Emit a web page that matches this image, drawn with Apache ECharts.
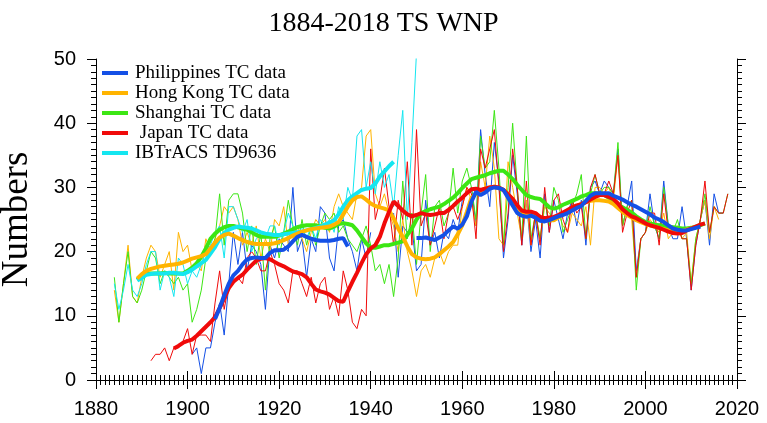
<!DOCTYPE html>
<html><head><meta charset="utf-8">
<script src="https://cdn.jsdelivr.net/npm/echarts@6/dist/echarts.min.js"></script>
<style>html,body{margin:0;padding:0;background:#fff}#c{width:767px;height:423px}</style>
</head><body><div id="c"></div>
<script>
// ---- annual values (thin lines) ----
const phStart = 1901;
const phAnnual = [4,5,1,5,5,9,12,7,15,23, 18,23,17,21,20,18,11,21,19,22, 21,20,30,20,22,16,22,20,27,26,
  19,17,24,25,22,20,17,22,19,23, null,null,null,null, 26,16,24,23,24,17, 18,28,21,23,19,23,22,25,23,28,
  29,30,24,39,32,27,37,31,19,25, 35,29,21,28,20,25,19,29,23,28, 25,22,26,28,24,28,21,30,31,29,
  31,30,29,36,24,27,31,17,22,23, 29,24,22,31,24,22,22,27,22,14, 21,25,28,21,29,26,26];
const hkStart = 1884;
const hkAnnual = [14,9,15,21,13,12,16,19,21,20, 16,18,20,14,23,20,21,17,18,17, 22,20,22,24,27,26,27,25,21,23,
  21,24,19,22,20,25,24,27,21,22, 24,22,20,23,25,24,25,23,27,29, 27,26,25,29,30,38,39,29,27,29,
  26,24,20,25,20,17,13,17,18,16, 19,20,18,20,21,21,27,30,28,24, 34,30,38,33,22,21,34,30,26,22,
  28,21,26,22,27,26,25,26,24,23, 26,25,24,27,21,30,30,29,30,28, 35,24,27,25,16,22,23,25,24,23,
  26,22,23,24,22,23,15,22,25,28, 22,27,25];
const shStart = 1884;
const shAnnual = [16,9,15,20,13,12,14,17,20,19, 15,17,16,15,16,14,15,9,11,14, 19,20,22,29,21,28,29,29,26,20,
  24,18,23,14,22,24,19,23,28,24, 21,25,21,24,21,24,26,25,26,23, 24,22,21,20,22,24,21,17,18,15,
  18,13,19,31,22,26,18,26,32,20, 27,28,24,26,33,26,31,33,30,25, 38,33,34,42,33,21,30,40,30,22,
  38,22,26,22,28,24,30,28,23,25, 27,29,32,22,29,32,29,30,30,29, 37,24,27,28,14,22,23,27,24,22,
  30,24,23,25,22,22,15,22,25,29, 23,27,26,26,29];
const jpStart = 1892;
const jpAnnual = [3,4,4,5,3,5,5,6,8,4, 7,7,7,6,12,17,11,15,15,16, 15,19,20,19,17,17,20,18,15,14,
  12,17,17,15,13,16,12,15,16,11, 13,10,17,14,9,8,11,10,36,25, 28,33,27,21,28,25,34,21,39,24,
  26,21,24,27,22,26,27,25,27,30, 29,22,36,33,36,39,30,20,26,36, 30,21,31,21,26,21,30,23,28,29,
  25,23,28,26,27,22,30,32,29,29, 31,29,35,23,26,28,16,22,23,26, 26,21,29,23,23,24,22,22,14,21,
  25,31,23,27,26,26,29];
const ibStart = 1884;
const ibAnnual = [15,11,14,18,14,13,15,18,20,20, 14,17,16,13,19,18,15,17,16,18, 20,21,23,24,19,27,27,25,23,25,
  20,22,23,22,24,24,21,23,26,24, 22,24,22,24,22,25,24,25,23,27, 25,30,28,38,39,30,34,29,34,30,
  32,27,35,42,25,37,51];

// ---- smoothed values (thick lines) ----
const phSmoothA = [[1906,9.5],[1907,11.2],[1908,13.2],[1909,15],[1910,16.3],[1911,17],[1912,18],[1913,18.8],[1914,19],
  [1915,19.1],[1916,19],[1917,19],[1918,19.8],[1919,20.2],[1920,20.2],[1921,20.3],[1922,20.8],[1923,21.6],[1924,22.3],
  [1925,22.6],[1926,22.3],[1927,22],[1928,21.8],[1929,21.7],[1930,21.7],[1931,21.7],[1932,21.8],[1933,22],[1934,22.1],[1935,20.8]];
const phSmoothB = [[1950,22.1],[1951,22.1],[1952,22.2],[1953,22],[1954,21.8],[1955,22.2],[1956,22.6],[1957,23.3],[1958,23.9],
  [1959,23.6],[1960,24.2],[1961,25.5],[1962,27.8],[1963,29.3],[1964,28.8],[1965,29.2],[1966,29.8],[1967,30],[1968,29.9],
  [1969,29.6],[1970,28.4],[1971,27.2],[1972,26],[1973,25.6],[1974,25.4],[1975,25.6],[1976,25.3],[1977,24.8],[1978,24.7],
  [1979,24.9],[1980,25.2],[1981,25.5],[1982,25.7],[1983,26],[1984,26.4],[1985,26.8],[1986,27.1],[1987,27.9],[1988,28.7],
  [1989,29.1],[1990,29.1],[1991,29.1],[1992,29.1],[1993,28.7],[1994,28.4],[1995,28.1],[1996,27.7],[1997,27.3],[1998,27],
  [1999,26.6],[2000,26.2],[2001,25.8],[2002,25.3],[2003,25],[2004,24.6],[2005,24.1],[2006,23.6],[2007,23.4],[2008,23.3],
  [2009,23.3],[2010,23.5],[2011,23.7],[2012,23.9]];
const hkSmooth = [[1889,15.8],[1890,16.5],[1891,17],[1892,17.3],[1893,17.5],[1894,17.7],[1895,17.8],[1896,17.9],[1897,18],
  [1898,18.1],[1899,18.3],[1900,18.6],[1901,18.9],[1902,19.1],[1903,19.3],[1904,19.6],[1905,20.5],[1906,21.4],[1907,22.2],
  [1908,22.6],[1909,22.8],[1910,22.5],[1911,22.1],[1912,21.8],[1913,21.5],[1914,21.3],[1915,21.2],[1916,21.2],[1917,21.2],
  [1918,21.2],[1919,21.3],[1920,21.5],[1921,21.8],[1922,22.1],[1923,22.5],[1924,22.8],[1925,23.1],[1926,23.3],[1927,23.5],
  [1928,23.6],[1929,23.7],[1930,23.8],[1931,23.9],[1932,24.2],[1933,24.6],[1934,25.8],[1935,27],[1936,28],[1937,28.5],
  [1938,28.6],[1939,28.1],[1940,27.5],[1941,27.1],[1942,26.9],[1943,26.7],[1944,26.4],[1945,25.2],[1946,23.6],[1947,22.3],
  [1948,20.8],[1949,19.6],[1950,19.1],[1951,18.9],[1952,18.8],[1953,18.9],[1954,19.1],[1955,19.6],[1956,20.2],[1957,20.8],
  [1958,21.5],[1959,22.7],[1960,24.1],[1961,26.2],[1962,28.4],[1963,29],[1964,29.5],[1965,29.8],[1966,30],[1967,30.1],
  [1968,29.9],[1969,29.6],[1970,29],[1971,28],[1972,27],[1973,26.2],[1974,25.7],[1975,25.8],[1976,25.9],[1977,25.4],
  [1978,24.9],[1979,24.9],[1980,24.9],[1981,25.3],[1982,25.9],[1983,26.4],[1984,26.8],[1985,27.1],[1986,27.4],[1987,27.7],
  [1988,27.9],[1989,28],[1990,28],[1991,27.9],[1992,27.8],[1993,27.4],[1994,26.8],[1995,26.2],[1996,25.7],[1997,25.3],
  [1998,24.9],[1999,24.6],[2000,24.3],[2001,24.1],[2002,23.9],[2003,23.7],[2004,23.5],[2005,23.3],[2006,23.2],[2007,23.1],
  [2008,23.2],[2009,23.4],[2010,23.6],[2011,23.9]];
const shSmooth = [[1889,15.6],[1890,16.2],[1891,16.5],[1892,16.6],[1893,16.6],[1894,16.6],[1895,16.7],[1896,16.6],[1897,16.6],
  [1898,16.6],[1899,16.6],[1900,17],[1901,17.5],[1902,18.2],[1903,19.2],[1904,20.5],[1905,22],[1906,22.8],[1907,23.4],
  [1908,23.8],[1909,24],[1910,24],[1911,23.8],[1912,23.6],[1913,23.4],[1914,23],[1915,22.6],[1916,22.3],[1917,22.3],
  [1918,22.3],[1919,22.3],[1920,22.5],[1921,22.8],[1922,23.1],[1923,23.5],[1924,23.8],[1925,24],[1926,24.1],[1927,24.1],
  [1928,24.1],[1929,23.9],[1930,23.7],[1931,23.6],[1932,23.9],[1933,24.3],[1934,24.4],[1935,24.3],[1936,24.1],[1937,23.3],
  [1938,22.3],[1939,21.3],[1940,20.6],[1941,20.6],[1942,20.8],[1943,21],[1944,21],[1945,21.2],[1946,21.4],[1947,21.6],
  [1948,22.6],[1949,23.6],[1950,25],[1951,26],[1952,26.3],[1953,26.6],[1954,26.8],[1955,27],[1956,27.4],[1957,27.9],
  [1958,28.4],[1959,29.1],[1960,29.9],[1961,30.6],[1962,31.3],[1963,31.5],[1964,31.7],[1965,31.9],[1966,32.2],[1967,32.4],
  [1968,32.6],[1969,32.6],[1970,32],[1971,31.3],[1972,30.4],[1973,29.6],[1974,28.8],[1975,28.5],[1976,28.3],[1977,28.2],
  [1978,27.6],[1979,26.9],[1980,26.7],[1981,26.9],[1982,27.3],[1983,27.6],[1984,27.9],[1985,28.2],[1986,28.6],[1987,28.8],
  [1988,29.1],[1989,29.1],[1990,29],[1991,28.8],[1992,28.4],[1993,27.9],[1994,27.4],[1995,26.9],[1996,26.5],[1997,26.1],
  [1998,25.5],[1999,25],[2000,24.6],[2001,24.4],[2002,24.2],[2003,24.1],[2004,24],[2005,23.9],[2006,23.8],[2007,23.7],
  [2008,23.6],[2009,23.6],[2010,23.7],[2011,23.9],[2012,24.1],[2013,24.4]];
const jpSmooth = [[1897,4.9],[1898,5.3],[1899,5.8],[1900,6.1],[1901,6.3],[1902,6.9],[1903,7.6],[1904,8.3],[1905,9],
  [1906,9.8],[1907,11.2],[1908,12.7],[1909,14.3],[1910,15.3],[1911,15.9],[1912,16.4],[1913,17.2],[1914,17.9],[1915,18.6],
  [1916,18.9],[1917,19],[1918,18.8],[1919,18.4],[1920,18],[1921,17.7],[1922,17.3],[1923,16.9],[1924,16.7],[1925,16.5],
  [1926,16],[1927,15],[1928,14.1],[1929,13.8],[1930,13.6],[1931,13.3],[1932,12.8],[1933,12.3],[1934,12.2],[1935,13.8],
  [1936,15.3],[1937,16.7],[1938,18.2],[1939,19.6],[1940,20.5],[1941,21],[1942,22.3],[1943,24.4],[1944,26.2],[1945,27.8],
  [1946,27.1],[1947,26.4],[1948,25.8],[1949,25.5],[1950,25.7],[1951,26],[1952,25.8],[1953,25.7],[1954,25.8],[1955,26],
  [1956,26],[1957,26.5],[1958,27.1],[1959,27.8],[1960,28.4],[1961,29.1],[1962,29.7],[1963,29.8],[1964,29.6],[1965,29.8],
  [1966,30],[1967,30.1],[1968,30],[1969,29.6],[1970,28.9],[1971,28.2],[1972,27.2],[1973,26.4],[1974,26.2],[1975,26.2],
  [1976,26],[1977,25.4],[1978,25.2],[1979,25.3],[1980,25.4],[1981,25.7],[1982,26.1],[1983,26.5],[1984,26.9],[1985,27.2],
  [1986,27.4],[1987,27.7],[1988,28.1],[1989,28.5],[1990,28.8],[1991,28.8],[1992,28.5],[1993,28.2],[1994,27.5],[1995,26.6],
  [1996,26],[1997,25.5],[1998,25.2],[1999,24.8],[2000,24.4],[2001,24.1],[2002,23.9],[2003,23.7],[2004,23.4],[2005,23.1],
  [2006,22.9],[2007,22.8],[2008,22.9],[2009,23.3],[2010,23.6],[2011,23.9],[2012,24.2],[2013,24.4]];
const ibSmooth = [[1889,15.5],[1890,15.9],[1891,16.4],[1892,16.5],[1893,16.6],[1894,16.6],[1895,16.6],[1896,16.7],[1897,16.7],
  [1898,16.6],[1899,16.5],[1900,16.8],[1901,17.2],[1902,17.7],[1903,18.2],[1904,18.7],[1905,19.7],[1906,20.7],[1907,22],
  [1908,22.9],[1909,23.4],[1910,23.7],[1911,23.9],[1912,23.8],[1913,23.7],[1914,23.6],[1915,23.3],[1916,23],[1917,22.8],
  [1918,22.7],[1919,22.6],[1920,22.6],[1921,22.7],[1922,22.8],[1923,22.9],[1924,23],[1925,23.1],[1926,23.3],[1927,23.5],
  [1928,23.7],[1929,23.9],[1930,24.2],[1931,24.5],[1932,24.9],[1933,25.8],[1934,27],[1935,28],[1936,28.6],[1937,29.1],
  [1938,29.6],[1939,29.8],[1940,29.9],[1941,30.6],[1942,31.7],[1943,32.5],[1944,33.3],[1945,34]];

const names = ['Philippines TC data','Hong Kong TC data','Shanghai TC data',' Japan TC data','IBTrACS TD9636'];
const colors = {ph:'#1450E6', hk:'#FFB400', sh:'#3CE614', jp:'#F00A0A', ib:'#14E6F0'};
const xTicks = {min:1880, max:2020, step:20};
const yTicks = {min:0, max:50, step:10};

const SANS = '"Liberation Sans", Arial, sans-serif';
const SERIF = '"Liberation Serif", "Times New Roman", serif';

function annualPairs(start, arr){ return arr.map((v,i)=>[start+i, v==null?'-':v]); }
function thin(name, color, data){
  return {name:name, type:'line', data:data, symbol:'none', silent:true, z:2,
    lineStyle:{color:color, width:1}, itemStyle:{color:color}};
}
function thick(name, color, data){
  return {name:name, type:'line', data:data, symbol:'none', silent:true, z:3,
    lineStyle:{color:color, width:4}, itemStyle:{color:color}};
}
function axisBase(minorSplit){
  return {
    axisLine:{show:true, lineStyle:{color:'#000', width:1}},
    axisTick:{show:true, inside:false, length:9, lineStyle:{color:'#000', width:1}},
    minorTick:{show:true, splitNumber:minorSplit, length:5, lineStyle:{color:'#000', width:1}},
    splitLine:{show:false}, minorSplitLine:{show:false}
  };
}

const chart = echarts.init(document.getElementById('c'), null, {renderer:'canvas'});
chart.setOption({
  animation:false,
  backgroundColor:'#fff',
  title:{text:'1884-2018 TS WNP', left:'center', top:5,
    textStyle:{fontFamily:SERIF, fontSize:28, fontWeight:'normal', color:'#000'}},
  grid:{left:96, right:30, top:59, bottom:43, containLabel:false, outerBoundsMode:'none'},
  legend:{data:names.map(n=>({name:n, icon:'rect'})), orient:'vertical', left:102, top:63, padding:0,
    itemWidth:26, itemHeight:4, itemGap:0,
    textStyle:{fontFamily:SERIF, fontSize:19, lineHeight:20, color:'#000', padding:[0,0,0,2]}, selectedMode:false},
  xAxis:[
    Object.assign({type:'value', min:xTicks.min, max:xTicks.max, interval:xTicks.step,
      axisLabel:{margin:19, fontFamily:SANS, fontSize:20, color:'#000', formatter:(v)=>String(v)}}, axisBase(20)),
    Object.assign({type:'value', position:'top', min:xTicks.min, max:xTicks.max, interval:xTicks.step,
      axisLabel:{show:false}}, axisBase(20))
  ],
  yAxis:[
    Object.assign({type:'value', min:yTicks.min, max:yTicks.max, interval:yTicks.step,
      name:'Numbers', nameLocation:'middle', nameGap:60, nameRotate:90,
      nameTextStyle:{fontFamily:SERIF, fontSize:37, color:'#000'},
      axisLabel:{margin:20, fontFamily:SANS, fontSize:20, color:'#000', formatter:(v)=>String(v)}}, axisBase(10)),
    Object.assign({type:'value', position:'right', min:yTicks.min, max:yTicks.max, interval:yTicks.step,
      axisLabel:{show:false}}, axisBase(10))
  ],
  series:[
    thin('PH annual', colors.ph, annualPairs(phStart, phAnnual)),
    thin('HK annual', colors.hk, annualPairs(hkStart, hkAnnual)),
    thin('SH annual', colors.sh, annualPairs(shStart, shAnnual)),
    thin('JP annual', colors.jp, annualPairs(jpStart, jpAnnual)),
    thin('IB annual', colors.ib, annualPairs(ibStart, ibAnnual)),
    thick(names[2], colors.sh, shSmooth),
    thick(names[4], colors.ib, ibSmooth),
    thick(names[1], colors.hk, hkSmooth),
    thick(names[3], colors.jp, jpSmooth),
    thick(names[0], colors.ph, phSmoothA.concat([[1942,'-']], phSmoothB))
  ]
});
</script></body></html>
